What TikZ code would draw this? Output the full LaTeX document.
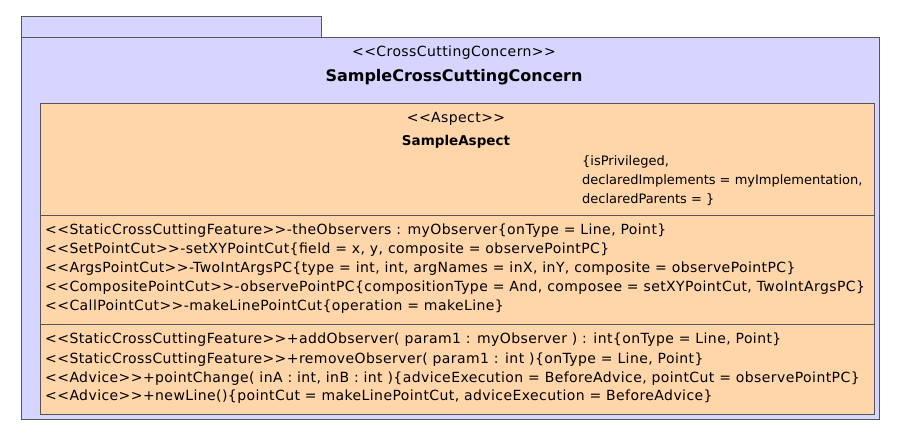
\documentclass[tikz,border=0pt]{standalone}
\usepackage{fontspec}
\newfontfamily\uf{DejaVu Sans}[LetterSpace=3.0]
\newfontfamily\ufp{DejaVu Sans}
\definecolor{lav}{HTML}{D5D5FF}
\definecolor{peach}{HTML}{FFD5AA}
\definecolor{edge}{HTML}{555555}
\begin{document}
\begin{tikzpicture}[x=1pt,y=-1pt,
  box/.style={draw=edge,line width=1pt},
  txt/.style={inner sep=0pt,font=\uf\fontsize{14}{16}\selectfont},
  ctxt/.style={txt,anchor=base},
  ltxt/.style={txt,anchor=base west},
  ptxt/.style={inner sep=0pt,anchor=base west,font=\ufp\fontsize{13}{15}\selectfont},
  bold/.style={font=\ufp\fontsize{13.5}{16}\selectfont\bfseries}]
\useasboundingbox (0,0) rectangle (900,430);
\fill[white] (0,0) rectangle (900,430);
% outer package
\draw[box,fill=lav] (21,17) rectangle (321,38);
\draw[box,fill=lav] (21,38) rectangle (879,419);
\node[ctxt] (st1) at (454,57) {<<CrossCuttingConcern>>};
\node[ctxt,font=\ufp\fontsize{16}{18}\selectfont\bfseries] (nm1) at (454,82) {SampleCrossCuttingConcern};
% inner aspect
\draw[box,fill=peach] (40,104) rectangle (874,414);
\draw[box] (40,216) -- (874,216);
\draw[box] (40,325) -- (874,325);
\node[ctxt] (st2) at (456,123) {<<Aspect>>};
\node[ctxt,bold] (nm2) at (456,146) {SampleAspect};
\node[ptxt] (p1) at (582,166) {\{isPrivileged,};
\node[ptxt] (p2) at (582,185) {declaredImplements = myImplementation,};
\node[ptxt] (p3) at (582,204) {declaredParents = \}};
% attributes
\node[ltxt] (a1) at (45,235) {<<StaticCrossCuttingFeature>>-theObservers : myObserver\{onType = Line, Point\}};
\node[ltxt] (a2) at (45,254) {<<SetPointCut>>-setXYPointCut\{field = x, y, composite = observePointPC\}};
\node[ltxt] (a3) at (45,273) {<<ArgsPointCut>>-TwoIntArgsPC\{type = int, int, argNames = inX, inY, composite = observePointPC\}};
\node[ltxt] (a4) at (45,292) {<<CompositePointCut>>-observePointPC\{compositionType = And, composee = setXYPointCut, TwoIntArgsPC\}};
\node[ltxt] (a5) at (45,311) {<<CallPointCut>>-makeLinePointCut\{operation = makeLine\}};
% operations
\node[ltxt] (o1) at (45,344) {<<StaticCrossCuttingFeature>>+addObserver( param1 : myObserver ) : int\{onType = Line, Point\}};
\node[ltxt] (o2) at (45,363) {<<StaticCrossCuttingFeature>>+removeObserver( param1 : int )\{onType = Line, Point\}};
\node[ltxt] (o3) at (45,382) {<<Advice>>+pointChange( inA : int, inB : int )\{adviceExecution = BeforeAdvice, pointCut = observePointPC\}};
\node[ltxt] (o4) at (45,400) {<<Advice>>+newLine()\{pointCut = makeLinePointCut, adviceExecution = BeforeAdvice\}};
\end{tikzpicture}
\end{document}
